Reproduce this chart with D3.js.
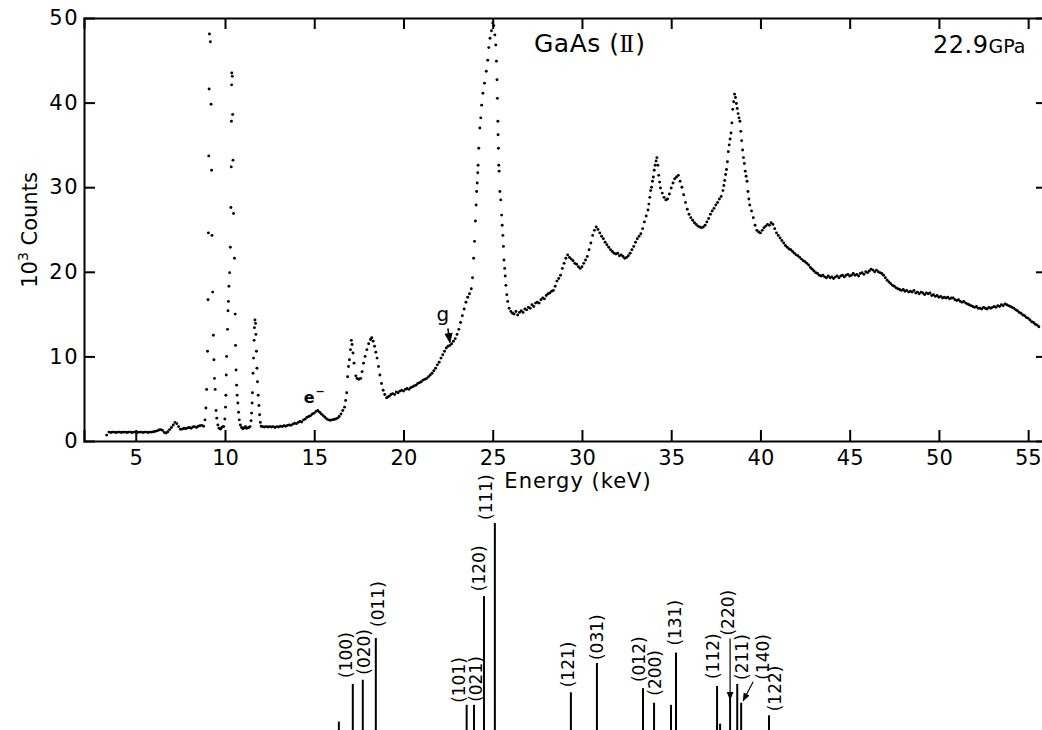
<!DOCTYPE html>
<html><head><meta charset="utf-8">
<script src="https://cdn.jsdelivr.net/npm/d3@7"></script>
<style>body{margin:0;background:#fff}svg{display:block}</style>
</head><body>
<svg id="chart" width="1042" height="730"></svg>
<script>
// ---------- data ----------
const xTickValues = [5,10,15,20,25,30,35,40,45,50,55];
const topTickValues = [10,15,20,25,30,35,40,45,50,55];
const yTickValues = [0,10,20,30,40,50];
const sideTickValues = [10,20,30,40];

// energy (keV), counts (10^3)
const spectrum = [
[3.37,0.7],[3.5,1.05],[3.6,1.0],[3.7,1.05],[3.8,1.05],[3.9,1.0],[4.0,1.05],[4.1,1.05],[4.2,1.0],[4.3,1.05],[4.4,1.05],[4.5,1.0],[4.6,1.05],[4.7,1.05],[4.8,1.0],[4.9,1.05],[5.0,1.05],[5.1,1.0],[5.2,1.05],[5.3,1.05],[5.4,1.0],[5.5,1.05],[5.6,1.05],[5.7,1.0],[5.8,1.05],[5.9,1.05],[6.0,1.1],[6.1,1.15],[6.2,1.2],[6.3,1.3],[6.4,1.35],[6.5,1.25],[6.6,1.0],[6.7,0.95],[6.8,1.1],[6.9,1.35],[7.0,1.6],[7.1,1.9],[7.2,2.2],[7.3,2.05],[7.4,1.7],[7.5,1.4],[7.6,1.4],[7.7,1.5],[7.8,1.45],[7.9,1.55],[8.0,1.6],[8.1,1.5],[8.2,1.65],[8.3,1.7],[8.4,1.6],[8.5,1.75],[8.6,1.8],[8.7,1.85],[8.8,1.75],
[8.88,2.5],[8.93,3.9],[8.97,6.1],[9.02,10.6],[9.05,16.7],[9.07,24.6],[9.09,33.7],[9.11,41.6],[9.13,48.1],[9.18,47.2],[9.22,39.8],[9.25,32.0],[9.27,24.3],[9.31,17.6],[9.35,12.5],[9.38,9.6],[9.41,7.4],[9.45,6.1],[9.5,3.6],[9.54,2.7],[9.6,1.9],[9.67,1.5],[9.75,1.4],[9.82,1.6],[9.88,1.7],
[9.93,1.7],[9.99,2.6],[10.03,4.0],[10.05,5.4],[10.07,7.8],[10.09,10.0],[10.14,13.2],[10.17,15.4],[10.19,16.5],[10.22,18.3],[10.26,19.9],[10.3,22.9],[10.33,27.6],[10.35,32.4],[10.36,37.8],[10.37,42.1],[10.38,43.5],[10.41,43.1],[10.43,38.6],[10.45,33.2],[10.48,26.9],[10.53,21.6],[10.57,15.0],[10.59,11.3],[10.62,8.4],[10.65,6.6],[10.68,5.4],[10.72,4.5],[10.76,3.4],[10.8,2.5],[10.86,1.9],[10.93,1.6],[11.0,1.45],[11.07,1.55],[11.14,1.7],[11.2,1.5],[11.27,1.55],[11.34,1.6],[11.4,1.7],
[11.46,2.4],[11.49,3.3],[11.52,4.5],[11.54,5.7],[11.57,8.0],[11.6,9.8],[11.63,11.9],[11.65,13.4],[11.68,14.3],[11.71,13.9],[11.73,12.6],[11.76,10.6],[11.79,8.6],[11.82,7.0],[11.86,5.4],[11.9,4.2],[11.94,3.1],[11.98,2.2],[12.03,1.75],[12.1,1.7],
[12.2,1.65],[12.3,1.7],[12.4,1.65],[12.5,1.7],[12.6,1.65],[12.7,1.7],[12.8,1.6],[12.9,1.7],[13.0,1.65],[13.1,1.75],[13.2,1.7],[13.3,1.8],[13.4,1.75],[13.5,1.85],[13.6,1.9],[13.7,1.85],[13.8,2.0],[13.9,2.1],[14.0,2.05],[14.1,2.2],[14.2,2.3],[14.3,2.25],[14.4,2.5],[14.5,2.6],[14.6,2.8],[14.7,2.9],[14.8,3.0],[14.9,3.2],[15.0,3.3],[15.1,3.5],[15.2,3.6],[15.3,3.4],[15.4,3.2],[15.5,3.0],[15.6,2.8],[15.7,2.6],[15.8,2.5],[15.9,2.45],[16.0,2.5],[16.1,2.55],[16.2,2.6],[16.3,2.7],[16.4,2.9],[16.5,3.2],[16.6,3.6],
[16.7,4.0],[16.76,4.8],[16.82,5.7],[16.87,7.6],[16.92,8.8],[16.97,9.6],[17.03,10.8],[17.08,11.9],[17.12,11.4],[17.17,10.4],[17.23,9.2],[17.33,7.7],[17.4,7.4],[17.5,7.3],[17.6,7.4],[17.68,8.2],[17.76,9.2],[17.85,10.0],[17.95,10.8],[18.05,11.5],[18.15,12.0],[18.22,12.2],[18.3,11.8],[18.38,11.2],[18.45,10.5],[18.52,9.8],[18.6,8.8],[18.68,7.8],[18.77,6.8],[18.86,6.0],[18.95,5.5],[19.05,5.1],[19.12,5.2],
[19.2,5.3],[19.3,5.5],[19.4,5.6],[19.5,5.5],[19.6,5.8],[19.7,5.7],[19.8,5.9],[19.9,6.0],[20.0,5.9],[20.1,6.1],[20.2,6.2],[20.3,6.1],[20.4,6.3],[20.5,6.4],[20.6,6.5],[20.7,6.6],[20.8,6.8],[20.9,6.9],[21.0,7.0],[21.1,7.2],[21.2,7.3],[21.3,7.4],[21.4,7.6],[21.5,7.8],[21.6,8.0],[21.7,8.3],[21.8,8.6],[21.9,9.0],[22.0,9.3],[22.1,9.8],[22.2,10.2],[22.3,10.6],[22.4,11.0],[22.5,11.2],[22.6,11.3],[22.7,11.5],[22.8,11.8],[22.9,12.1],[23.0,12.6],[23.1,13.2],[23.2,14.0],[23.3,14.8],[23.4,15.6],[23.5,16.4],[23.6,17.0],[23.7,17.4],[23.8,18.0],
[23.87,19.3],[23.93,21.6],[23.98,23.6],[24.03,26.0],[24.07,27.9],[24.1,29.5],[24.13,30.5],[24.16,31.7],[24.18,32.6],[24.22,34.6],[24.28,37.0],[24.33,38.2],[24.38,39.7],[24.45,41.1],[24.54,42.3],[24.64,43.7],[24.72,45.0],[24.78,46.5],[24.85,47.6],[24.93,48.5],[25.0,49.4],[25.06,49.1],[25.12,48.0],[25.17,46.8],[25.21,44.9],[25.24,42.7],[25.26,40.5],[25.29,37.8],[25.3,36.2],[25.32,34.6],[25.34,32.6],[25.36,31.9],[25.4,29.5],[25.45,28.5],[25.5,26.7],[25.53,25.5],[25.57,24.3],[25.6,23.0],[25.63,21.4],[25.67,20.4],[25.7,19.5],[25.74,18.4],[25.79,17.3],[25.84,16.5],[25.92,15.7],[26.02,15.3],[26.11,15.1],
[26.2,15.0],[26.3,15.3],[26.4,14.9],[26.5,15.2],[26.6,15.4],[26.7,15.2],[26.8,15.6],[26.9,15.5],[27.0,15.8],[27.1,15.7],[27.2,16.1],[27.3,15.9],[27.4,16.3],[27.5,16.4],[27.6,16.3],[27.7,16.7],[27.8,16.9],[27.9,16.8],[28.0,17.2],[28.1,17.4],[28.2,17.5],[28.3,17.7],[28.4,17.8],[28.5,18.3],[28.6,18.9],[28.7,19.2],[28.8,19.6],[28.9,20.4],[29.0,21.0],[29.1,21.6],[29.2,22.0],[29.3,21.7],[29.4,21.5],[29.5,21.3],[29.6,21.0],[29.7,20.9],[29.8,20.6],[29.9,20.4],[30.0,20.6],[30.1,21.0],[30.2,21.4],[30.3,21.8],[30.4,22.6],[30.5,23.4],[30.6,24.3],[30.7,24.9],[30.8,25.3],[30.9,25.0],[31.0,24.6],[31.1,24.2],[31.2,23.9],[31.3,23.5],[31.4,23.2],[31.5,22.9],[31.6,22.6],[31.7,22.4],[31.8,22.2],[31.9,22.1],[32.0,22.2],[32.1,21.9],[32.2,22.0],[32.3,21.8],[32.4,21.6],[32.5,21.7],[32.6,21.9],[32.7,22.2],[32.8,22.6],[32.9,23.0],[33.0,23.5],[33.1,23.9],[33.2,24.2],[33.3,24.5],[33.4,25.1],[33.5,25.9],[33.6,26.6],[33.7,27.3],[33.75,28.0],[33.8,28.8],[33.85,29.6],[33.9,30.0],[33.95,30.7],[34.0,31.2],[34.05,32.0],[34.1,32.6],[34.15,33.1],[34.2,33.5],[34.25,32.6],[34.3,31.4],[34.35,30.6],[34.4,29.9],[34.5,29.3],[34.6,28.8],[34.7,28.5],[34.8,28.6],[34.9,29.2],[35.0,29.9],[35.1,30.5],[35.2,31.0],[35.3,31.2],[35.4,31.4],[35.5,30.7],[35.6,30.0],[35.7,29.1],[35.8,28.2],[35.9,27.4],[36.0,26.8],[36.1,26.4],[36.2,26.1],[36.3,25.8],[36.4,25.6],[36.5,25.4],[36.6,25.3],[36.7,25.2],[36.8,25.3],[36.9,25.5],[37.0,25.9],[37.1,26.3],[37.2,26.8],[37.3,27.2],[37.4,27.5],[37.5,27.9],[37.6,28.2],[37.7,28.6],[37.8,28.9],[37.9,29.6],[37.95,30.2],[38.0,30.8],[38.05,31.5],[38.1,32.1],[38.15,33.0],[38.2,34.2],[38.25,35.0],[38.3,35.7],[38.35,36.4],[38.4,37.6],[38.45,39.2],[38.5,40.1],[38.55,41.0],[38.6,40.6],[38.65,39.9],[38.7,39.3],[38.75,38.7],[38.8,38.2],[38.85,37.8],[38.9,36.6],[38.95,35.5],[39.0,34.4],[39.05,33.5],[39.1,32.8],[39.15,31.9],[39.2,31.3],[39.25,30.7],[39.3,29.5],[39.35,28.6],[39.4,27.9],[39.5,27.2],[39.6,26.4],[39.7,25.5],[39.8,24.9],[39.9,24.7],[40.0,24.6],[40.1,24.9],[40.2,25.2],[40.3,25.4],[40.4,25.6],[40.5,25.5],[40.6,25.8],[40.7,25.6],[40.8,25.1],[40.9,24.6],
[41.0,24.3],[41.1,24.0],[41.2,23.7],[41.3,23.4],[41.4,23.1],[41.5,22.9],[41.6,22.7],[41.7,22.6],[41.8,22.4],[41.9,22.2],[42.0,22.0],[42.1,21.9],[42.2,21.7],[42.3,21.5],[42.4,21.3],[42.5,21.2],[42.6,21.0],[42.7,20.8],[42.8,20.5],[42.9,20.3],[43.0,20.1],[43.1,19.9],[43.2,19.8],[43.3,19.6],[43.4,19.5],[43.5,19.6],[43.6,19.4],[43.7,19.3],[43.8,19.5],[43.9,19.3],[44.0,19.4],[44.1,19.2],[44.2,19.4],[44.3,19.5],[44.4,19.3],[44.5,19.5],[44.6,19.6],[44.7,19.4],[44.8,19.6],[44.9,19.7],[45.0,19.5],[45.1,19.6],[45.2,19.8],[45.3,19.6],[45.4,19.7],[45.5,19.5],[45.6,19.8],[45.7,19.9],[45.8,19.7],[45.9,20.0],[46.0,19.9],[46.1,20.1],[46.2,20.3],[46.3,20.2],[46.4,20.0],[46.5,20.2],[46.6,20.0],[46.7,19.9],[46.8,19.8],[46.9,19.6],[47.0,19.3],[47.1,19.0],[47.2,18.8],[47.3,18.6],[47.4,18.4],[47.5,18.3],[47.6,18.1],[47.7,18.0],[47.8,17.9],[47.9,17.8],[48.0,17.9],[48.1,17.7],[48.2,17.8],[48.3,17.6],[48.4,17.7],[48.5,17.6],[48.6,17.8],[48.7,17.5],[48.8,17.6],[48.9,17.4],[49.0,17.6],[49.1,17.5],[49.2,17.3],[49.3,17.5],[49.4,17.4],[49.5,17.5],[49.6,17.2],[49.7,17.3],[49.8,17.1],[49.9,17.2],[50.0,17.0],[50.1,17.1],[50.2,16.9],[50.3,17.0],[50.4,16.9],[50.5,17.0],[50.6,16.8],[50.7,16.9],[50.8,16.9],[50.9,16.7],[51.0,16.6],[51.1,16.7],[51.2,16.5],[51.3,16.4],[51.4,16.5],[51.5,16.3],[51.6,16.2],[51.7,16.1],[51.8,16.0],[51.9,15.9],[52.0,15.8],[52.1,15.9],[52.2,15.7],[52.3,15.7],[52.4,15.6],[52.5,15.8],[52.6,15.7],[52.7,15.6],[52.8,15.8],[52.9,15.7],[53.0,15.8],[53.1,15.9],[53.2,15.8],[53.3,16.0],[53.4,15.9],[53.5,16.1],[53.6,16.0],[53.7,16.2],[53.8,16.1],[53.9,16.0],[54.0,15.9],[54.1,15.8],[54.2,15.7],[54.3,15.5],[54.4,15.4],[54.5,15.2],[54.6,15.1],[54.7,14.9],[54.8,14.8],[54.9,14.6],[55.0,14.5],[55.1,14.3],[55.2,14.1],[55.3,14.0],[55.4,13.8],[55.5,13.7],[55.6,13.5]
];

// calculated reflections (stick diagram)
const stickEnergy    = [16.38,17.16,17.72,18.45,23.54,23.95,24.51,25.12,29.38,30.84,33.42,34.04,34.99,35.27,37.57,37.74,38.30,38.70,38.92,40.48];
const stickIntensity = [5,23,25,45,13,13,65,100,19,33,21,14,13,38,22,4,16,23,14,8];
const stickLabel     = ["","(100)","(020)","(011)","(101)","(021)","(120)","(111)","(121)","(031)","(012)","(200)","","(131)","(112)","","(220)","(211)","(140)","(122)"];

// ---------- layout ----------
const plot = {left:84, right:1046, top:18, bottom:441};
const labelOffset = [[0,0],[-7,-6],[1,-5],[2,-11],[-8,-2],[2,-3],[-5,-5],[-9,-3],[-3,-5],[0,-3],[-4,-6],[1,-7],[0,0],[-1,-7],[-4,-7],[0,0],[-2,-63],[5,-4],[22,-23],[6,-4]];
const FONT = "'DejaVu Sans', sans-serif";

const svg = d3.select("#chart");
const x = d3.scaleLinear().domain([2.1,56]).range([plot.left, plot.right]);
const y = d3.scaleLinear().domain([0,50]).range([plot.bottom, plot.top]);
const ys = d3.scaleLinear().domain([0,100]).range([732,523]);

svg.append("defs").append("marker")
  .attr("id","arr").attr("viewBox","0 0 10 10").attr("refX",9).attr("refY",5)
  .attr("markerWidth",7).attr("markerHeight",7).attr("orient","auto-start-reverse")
  .append("path").attr("d","M0,1 L10,5 L0,9 Z").attr("fill","#000");

// axes
const gB = svg.append("g").attr("transform",`translate(0,${plot.bottom})`)
  .call(d3.axisBottom(x).tickValues(xTickValues).tickSize(-11).tickPadding(9).tickFormat(d3.format("d")));
const gT = svg.append("g").attr("transform",`translate(0,${plot.top})`)
  .call(d3.axisTop(x).tickValues(topTickValues).tickSize(-11).tickFormat(""));
const gL = svg.append("g").attr("transform",`translate(${plot.left},0)`)
  .call(d3.axisLeft(y).tickValues(yTickValues).tickSize(-11).tickPadding(5).tickFormat(d3.format("d")));
const gR = svg.append("g").attr("transform",`translate(${plot.right},0)`)
  .call(d3.axisRight(y).tickValues(sideTickValues).tickSize(-10).tickFormat(""));
[gB,gT,gL,gR].forEach(g=>{
  g.select(".domain").attr("stroke","#000").attr("stroke-width",2);
  g.selectAll(".tick line").attr("stroke","#000").attr("stroke-width",2);
  g.selectAll(".tick text").attr("font-family",FONT).attr("font-size",21).attr("fill","#000");
});
gL.selectAll(".tick text").attr("letter-spacing",1.5);
gB.selectAll(".tick text").filter(d=>d===55).attr("text-anchor","end").attr("dx",13);
gL.selectAll(".tick line").filter(d=>d===0||d===50).remove();

// spectrum dots
svg.append("g").selectAll("circle").data(spectrum).join("circle")
  .attr("cx",d=>x(d[0])).attr("cy",d=>y(d[1])).attr("r",1.45).attr("fill","#000");

// axis titles
svg.append("text").attr("x",578).attr("y",488).attr("text-anchor","middle")
  .attr("font-family",FONT).attr("font-size",21).attr("letter-spacing",1)
  .text("Energy (keV)");
const yl = svg.append("text").attr("transform","translate(37,230) rotate(-90)")
  .attr("text-anchor","middle").attr("font-family",FONT).attr("font-size",21);
yl.append("tspan").text("10");
yl.append("tspan").attr("font-size",14).attr("dy",-9).text("3");
yl.append("tspan").attr("dy",9).text(" Counts");

// title & pressure
const t = svg.append("text").attr("x",534).attr("y",52).attr("font-family",FONT).attr("font-size",25).attr("letter-spacing",0.5);
t.append("tspan").text("GaAs (");
t.append("tspan").attr("font-family","'Liberation Serif', serif").attr("letter-spacing",-2).text("II");
t.append("tspan").attr("dx",3).text(")");
const p = svg.append("text").attr("x",933).attr("y",53).attr("font-family",FONT).attr("font-size",24).attr("letter-spacing",0.5);
p.append("tspan").text("22.9");
p.append("tspan").attr("font-size",19).attr("letter-spacing",0).text("GPa");

// annotations
const eLab = svg.append("text").attr("x",x(15.0)).attr("y",y(3.6)-8).attr("text-anchor","middle")
  .attr("font-family",FONT).attr("font-size",16).attr("font-weight","bold");
eLab.append("tspan").text("e");
eLab.append("tspan").attr("font-size",11).attr("dy",-8).attr("dx",1).text("−");
svg.append("text").attr("x",x(22.6)-7).attr("y",y(11.3)-24).attr("text-anchor","middle")
  .attr("font-family",FONT).attr("font-size",20).text("g");
svg.append("line").attr("x1",x(22.6)-2).attr("y1",y(11.3)-17).attr("x2",x(22.6)).attr("y2",y(11.3)-3)
  .attr("stroke","#000").attr("stroke-width",1.5).attr("marker-end","url(#arr)");

// stick diagram
const sticks = stickEnergy.map((e,i)=>({e, inten:stickIntensity[i], label:stickLabel[i], off:labelOffset[i]}));
svg.append("g").selectAll("line").data(sticks).join("line")
  .attr("x1",d=>x(d.e)).attr("x2",d=>x(d.e)).attr("y1",ys(0)).attr("y2",d=>ys(d.inten))
  .attr("stroke","#000").attr("stroke-width",2);
svg.append("g").selectAll("text").data(sticks.filter(d=>d.label)).join("text")
  .attr("transform",d=>`translate(${x(d.e)+d.off[0]},${ys(d.inten)+d.off[1]}) rotate(-90)`)
  .attr("dy","0.36em").attr("font-family",FONT).attr("font-size",17).attr("fill","#000")
  .text(d=>d.label);
// leaders for crowded labels
const s220 = sticks[16], s140 = sticks[18];
svg.append("line").attr("x1",x(s220.e)).attr("x2",x(s220.e))
  .attr("y1",ys(s220.inten)+s220.off[1]+3).attr("y2",ys(s220.inten)+1)
  .attr("stroke","#000").attr("stroke-width",1.2).attr("marker-end","url(#arr)");
svg.append("line").attr("x1",x(s140.e)+12).attr("y1",ys(s140.inten)+s140.off[1]+2)
  .attr("x2",x(s140.e)+2).attr("y2",ys(s140.inten)-2)
  .attr("stroke","#000").attr("stroke-width",1.2).attr("marker-end","url(#arr)");
</script>
</body></html>
